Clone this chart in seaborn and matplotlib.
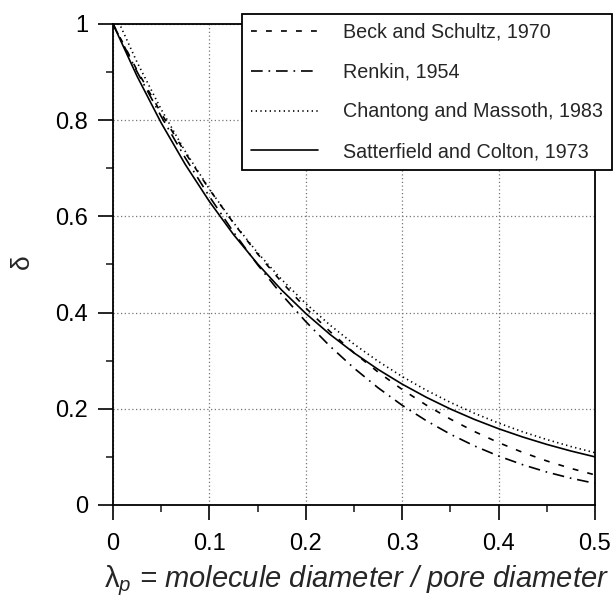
import numpy as np
import pandas as pd
import seaborn as sns
import matplotlib
matplotlib.use("Agg")
import matplotlib.pyplot as plt
from matplotlib.ticker import MultipleLocator

lam = [0.0, 0.025, 0.05, 0.075, 0.1, 0.125, 0.15, 0.175, 0.2, 0.225, 0.25,
       0.275, 0.3, 0.325, 0.35, 0.375, 0.4, 0.425, 0.45, 0.475, 0.5]

beck = [1.0, 0.9037, 0.8145, 0.7321, 0.6561, 0.5862, 0.5220, 0.4633, 0.4096,
        0.3608, 0.3164, 0.2763, 0.2401, 0.2076, 0.1785, 0.1526, 0.1296, 0.1093,
        0.0915, 0.0760, 0.0625]
renkin = [1.0, 0.9006, 0.8078, 0.7214, 0.6413, 0.5674, 0.4995, 0.4375, 0.3812,
          0.3303, 0.2845, 0.2436, 0.2072, 0.1752, 0.1471, 0.1227, 0.1017, 0.0837,
          0.0684, 0.0556, 0.0449]
chantong = [1.03, 0.9204, 0.8225, 0.7350, 0.6568, 0.5869, 0.5244, 0.4686, 0.4188,
            0.3742, 0.3344, 0.2988, 0.2670, 0.2386, 0.2132, 0.1905, 0.1703, 0.1521,
            0.1360, 0.1215, 0.1086]
satterfield = [1.0, 0.8913, 0.7943, 0.7079, 0.6310, 0.5623, 0.5012, 0.4467, 0.3981,
               0.3548, 0.3162, 0.2818, 0.2512, 0.2239, 0.1995, 0.1778, 0.1585, 0.1413,
               0.1259, 0.1122, 0.1000]

labels = ["Beck and Schultz, 1970", "Renkin, 1954",
          "Chantong and Massoth, 1983", "Satterfield and Colton, 1973"]
xticks = [0, 0.1, 0.2, 0.3, 0.4, 0.5]
xticklabels = ["0", "0.1", "0.2", "0.3", "0.4", "0.5"]
yticks = [0, 0.2, 0.4, 0.6, 0.8, 1.0]
yticklabels = ["0", "0.2", "0.4", "0.6", "0.8", "1"]

sns.set_style("white")
plt.rcParams["font.family"] = ["Liberation Sans", "DejaVu Sans"]
plt.rcParams["mathtext.fontset"] = "custom"
plt.rcParams["mathtext.rm"] = "Liberation Sans"
plt.rcParams["mathtext.it"] = "Liberation Sans:italic"

fig = plt.figure(figsize=(6.14, 5.99), dpi=100)
ax = fig.add_axes([0.184, 0.157, 0.785, 0.803])

dash_styles = [(0, (3.5, 5.5)), (0, (7, 3.5, 1, 3.5)), (0, (0.8, 2.0)), "-"]
series = [beck, renkin, chantong, satterfield]
for vals, lab, ls in zip(series, labels, dash_styles):
    df = pd.DataFrame({"lam": lam, "delta": vals})
    sns.lineplot(data=df, x="lam", y="delta", ax=ax, color="black",
                 linewidth=1.2, linestyle=ls, label=lab)

ax.set_xlim(0, 0.5)
ax.set_ylim(0, 1)
ax.set_xticks(xticks)
ax.set_xticklabels(xticklabels)
ax.set_yticks(yticks)
ax.set_yticklabels(yticklabels)
ax.xaxis.set_minor_locator(MultipleLocator(0.05))
ax.yaxis.set_minor_locator(MultipleLocator(0.1))
ax.tick_params(which="major", direction="out", length=11, width=1.2,
               labelsize=17, colors="black", pad=7, left=True, bottom=True)
ax.tick_params(axis="x", which="major", pad=9)
ax.tick_params(which="minor", direction="out", length=5, width=1.2,
               left=True, bottom=True)
ax.grid(True, which="major", color="#777777", linestyle=(0, (1, 2)), linewidth=0.9)
for s in ax.spines.values():
    s.set_visible(True)
    s.set_color("black")
    s.set_linewidth(1.3)

ax.set_xlabel(r"$\mathrm{λ}_p$ = molecule diameter / pore diameter",
              fontsize=21, style="italic")
ax.set_ylabel("δ", fontsize=19)
ax.xaxis.set_label_coords(0.506, -0.122)
ax.yaxis.set_label_coords(-0.165, 0.505)

leg = ax.legend(loc="upper right", bbox_to_anchor=(0.997, 0.977),
                bbox_transform=fig.transFigure, borderaxespad=0,
                fontsize=14.2, frameon=True, fancybox=False, edgecolor="black",
                framealpha=1, handlelength=3.4, handletextpad=1.27,
                labelspacing=1.06, borderpad=0.45)
leg.get_frame().set_linewidth(1.3)
leg.set_zorder(5)

fig.savefig("out.png", dpi=100)
